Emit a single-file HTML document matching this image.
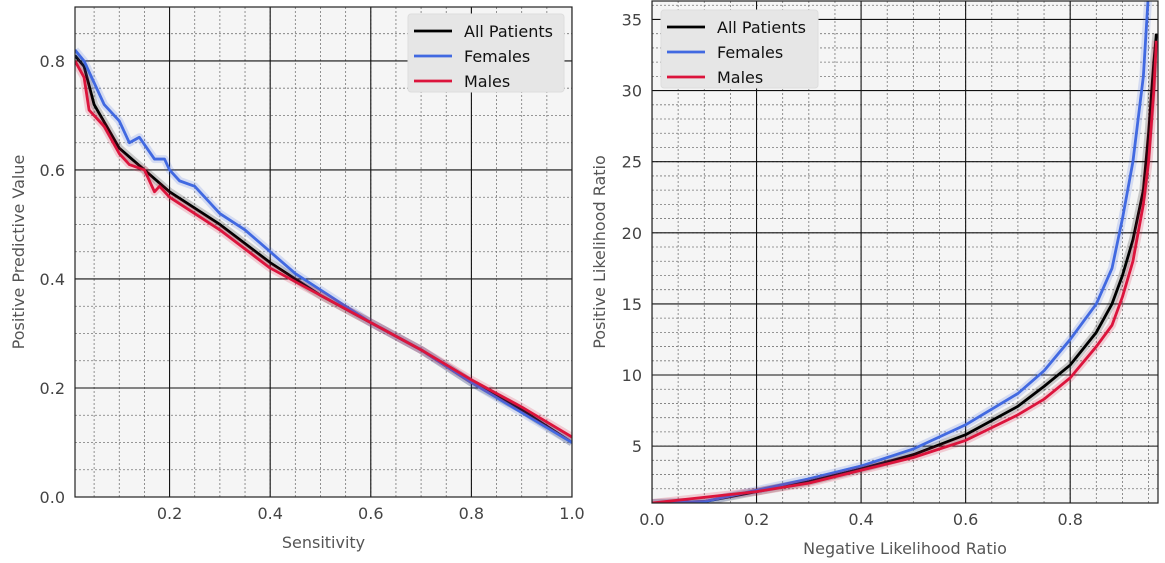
<!DOCTYPE html>
<html><head><meta charset="utf-8"><style>
body{margin:0;background:#fff;}
svg{display:block;font-family:"DejaVu Sans","Liberation Sans",sans-serif;}
</style></head><body>
<svg id="c" width="1165" height="563"></svg>
<script>
// Left chart data
const sensAll=[0.012,0.03,0.05,0.1,0.15,0.2,0.3,0.4,0.5,0.6,0.7,0.8,0.9,1.0];
const ppvAll=[0.81,0.79,0.72,0.64,0.60,0.56,0.50,0.43,0.37,0.32,0.27,0.21,0.16,0.10];
const sensF=[0.012,0.03,0.05,0.07,0.1,0.12,0.14,0.17,0.19,0.2,0.22,0.25,0.3,0.35,0.4,0.45,0.5,0.6,0.7,0.8,0.9,1.0];
const ppvF=[0.82,0.80,0.76,0.72,0.69,0.65,0.66,0.62,0.62,0.60,0.58,0.57,0.52,0.49,0.45,0.41,0.38,0.32,0.27,0.21,0.155,0.10];
const sensM=[0.012,0.03,0.04,0.07,0.1,0.12,0.15,0.17,0.18,0.2,0.25,0.3,0.4,0.5,0.6,0.7,0.8,0.9,1.0];
const ppvM=[0.80,0.77,0.71,0.68,0.63,0.61,0.60,0.56,0.57,0.55,0.52,0.49,0.42,0.37,0.32,0.27,0.215,0.165,0.11];
const leftXTicks=[0.2,0.4,0.6,0.8,1.0];
const leftYTicks=[0.0,0.2,0.4,0.6,0.8];
// Right chart data
const nlrAll=[0,0.1,0.2,0.3,0.4,0.5,0.6,0.7,0.75,0.8,0.85,0.88,0.9,0.92,0.94,0.95,0.96,0.965];
const plrAll=[1,1.1,1.8,2.5,3.4,4.4,5.8,7.8,9.2,10.7,13,15,17,19.5,23,27,32,34];
const nlrF=[0,0.1,0.2,0.3,0.4,0.5,0.6,0.7,0.75,0.8,0.85,0.88,0.9,0.92,0.94,0.95];
const plrF=[1,1.1,1.9,2.7,3.6,4.8,6.5,8.7,10.3,12.5,15,17.5,21,25,31,37];
const nlrM=[0,0.2,0.3,0.4,0.5,0.6,0.7,0.75,0.8,0.85,0.88,0.9,0.92,0.94,0.95,0.96,0.965];
const plrM=[1,1.8,2.4,3.3,4.2,5.4,7.2,8.3,9.8,12,13.5,15.5,18,22,25,30,33.5];
const rightXTicks=[0.0,0.2,0.4,0.6,0.8];
const rightYTicks=[5,10,15,20,25,30,35];

const NS="http://www.w3.org/2000/svg";
const svg=document.getElementById('c');
function mk(t,a,p){const e=document.createElementNS(NS,t);for(const k in a)e.setAttribute(k,a[k]);(p||svg).appendChild(e);return e;}

function panel(o){
  const g=mk('g',{});
  
  
  const X=v=>o.x0+(v-o.xmin)/(o.xmax-o.xmin)*(o.x1-o.x0);
  const Y=v=>o.y1-(v-o.ymin)/(o.ymax-o.ymin)*(o.y1-o.y0);
  mk('rect',{x:o.x0,y:o.y0,width:o.x1-o.x0,height:o.y1-o.y0,fill:'#f5f5f5'},g);
  const cid='clip'+o.name;
  const cp=mk('clipPath',{id:cid},g);mk('rect',{x:o.x0,y:o.y0,width:o.x1-o.x0,height:o.y1-o.y0},cp);
  const gg=mk('g',{'clip-path':'url(#'+cid+')'},g);
  for(let v=o.xmin-(o.xmin%o.xminor);v<=o.xmax+1e-9;v+=o.xminor){if(v<o.xmin)continue;mk('line',{x1:X(v),x2:X(v),y1:o.y0,y2:o.y1,stroke:'#777','stroke-width':0.8,'stroke-dasharray':'2,2'},gg);}
  for(let v=o.ymin-(o.ymin%o.yminor);v<=o.ymax+1e-9;v+=o.yminor){if(v<o.ymin)continue;mk('line',{y1:Y(v),y2:Y(v),x1:o.x0,x2:o.x1,stroke:'#777','stroke-width':0.8,'stroke-dasharray':'2,2'},gg);}
  o.xt.forEach(v=>{mk('line',{x1:X(v),x2:X(v),y1:o.y0,y2:o.y1,stroke:'#111','stroke-width':1.1},gg);
    const t=mk('text',{x:X(v),y:o.y1+22,'text-anchor':'middle','font-size':16,fill:'#444'},g);t.textContent=v.toFixed(1);
    });
  o.yt.forEach(v=>{mk('line',{y1:Y(v),y2:Y(v),x1:o.x0,x2:o.x1,stroke:'#111','stroke-width':1.1},gg);
    const t=mk('text',{x:o.x0-10,y:Y(v)+6,'text-anchor':'end','font-size':16,fill:'#444'},g);t.textContent=o.fmt(v);
    });
  o.series.forEach(s=>{
    const pts=s.x.map((v,i)=>X(v)+','+Y(s.y[i])).join(' ');
    const band=mk('polyline',{points:pts,fill:'none',stroke:s.c,'stroke-opacity':0.18,'stroke-width':8,'stroke-linejoin':'round'},gg);
    
    const l=mk('polyline',{points:pts,fill:'none',stroke:s.c,'stroke-width':2.8,'stroke-linejoin':'round'},gg);
    
  });
  mk('rect',{x:o.x0,y:o.y0,width:o.x1-o.x0,height:o.y1-o.y0,fill:'none',stroke:'#222','stroke-width':1.2},g);
  const xl=mk('text',{x:(o.x0+o.x1)/2,y:o.xly,'text-anchor':'middle','font-size':16,fill:'#555'},g);xl.textContent=o.xl;
  
  const yl=mk('text',{x:0,y:0,transform:`translate(${o.ylx},${(o.y0+o.y1)/2}) rotate(-90)`,'text-anchor':'middle','font-size':16,fill:'#555'},g);yl.textContent=o.yl;
  
  const lg=mk('g',{},g);
  mk('rect',{x:o.lx,y:o.ly,width:o.lw,height:78,rx:3,fill:'#e6e6e6',stroke:'#ddd'},lg);
  o.series.forEach((s,i)=>{const yy=o.ly+17+i*25;
    const e=mk('g',{},lg);
    mk('line',{x1:o.lx+6,x2:o.lx+44,y1:yy,y2:yy,stroke:s.c,'stroke-width':2.8},e);
    const t=mk('text',{x:o.lx+56,y:yy+6,'font-size':16,fill:'#111'},e);t.textContent=s.label;});
}
const C={k:'#000',b:'#4169e1',r:'#dc143c'};
panel({name:'ppv-panel',x0:75,x1:572,y0:7,y1:497,xmin:0.012,xmax:1.0,ymin:0,ymax:0.899,xminor:0.05,yminor:0.05,
  xt:leftXTicks,yt:leftYTicks,fmt:v=>v.toFixed(1),xl:'Sensitivity',xly:548,yl:'Positive Predictive Value',ylx:24,
  lx:408,ly:14,lw:156,
  series:[{n:'all',label:'All Patients',c:C.k,x:sensAll,y:ppvAll},{n:'females',label:'Females',c:C.b,x:sensF,y:ppvF},{n:'males',label:'Males',c:C.r,x:sensM,y:ppvM}]});
panel({name:'lr-panel',x0:652,x1:1158,y0:1,y1:503,xmin:0,xmax:0.968,ymin:1,ymax:36.3,xminor:0.05,yminor:1,
  xt:rightXTicks,yt:rightYTicks,fmt:v=>String(v),xl:'Negative Likelihood Ratio',xly:554,yl:'Positive Likelihood Ratio',ylx:605,
  lx:661,ly:10,lw:157,
  series:[{n:'all',label:'All Patients',c:C.k,x:nlrAll,y:plrAll},{n:'females',label:'Females',c:C.b,x:nlrF,y:plrF},{n:'males',label:'Males',c:C.r,x:nlrM,y:plrM}]});
</script>
</body></html>
